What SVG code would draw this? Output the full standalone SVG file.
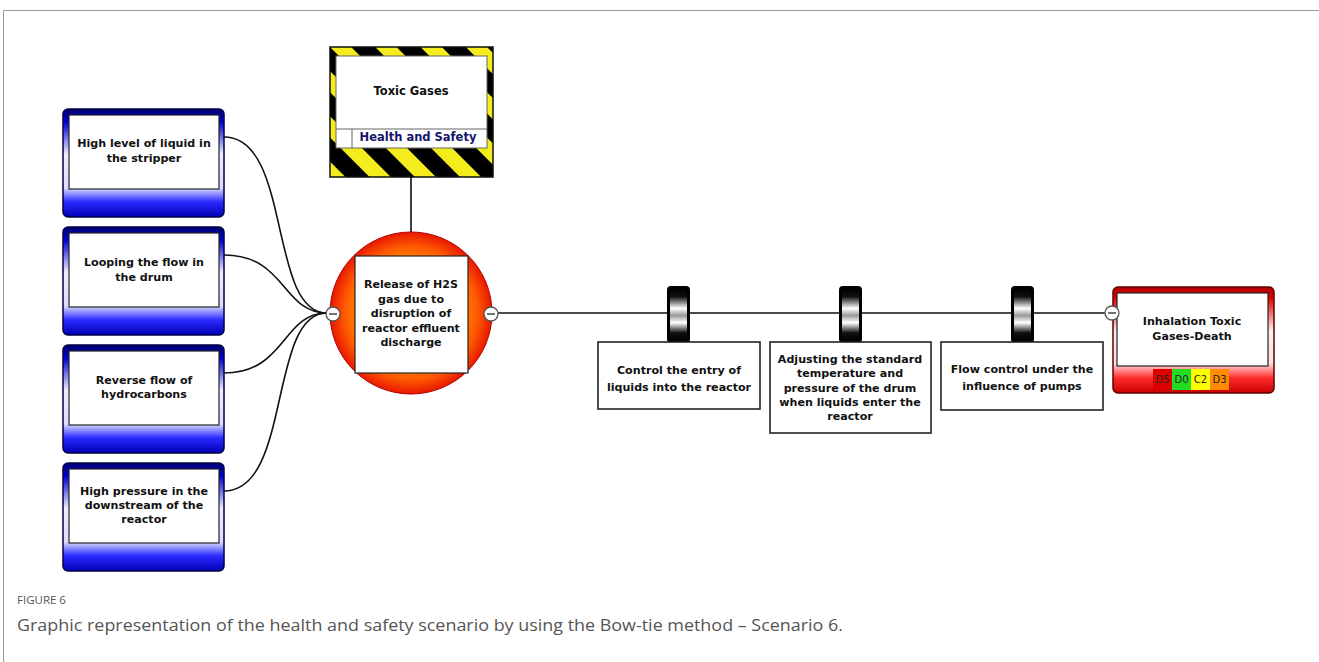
<svg xmlns="http://www.w3.org/2000/svg" width="1319" height="662" viewBox="0 0 1319 662">
<defs>
<linearGradient id="gBlue" x1="0" y1="0" x2="0" y2="1">
<stop offset="0" stop-color="#00006e"/>
<stop offset="0.12" stop-color="#0000d0"/>
<stop offset="0.42" stop-color="#eeeeff"/>
<stop offset="0.73" stop-color="#dcdcff"/>
<stop offset="0.86" stop-color="#2b2bff"/>
<stop offset="1" stop-color="#0000b4"/>
</linearGradient>
<linearGradient id="gRed" x1="0" y1="0" x2="0" y2="1">
<stop offset="0" stop-color="#b00000"/>
<stop offset="0.1" stop-color="#e00000"/>
<stop offset="0.42" stop-color="#fff0f0"/>
<stop offset="0.72" stop-color="#ffdede"/>
<stop offset="0.86" stop-color="#ff2a2a"/>
<stop offset="1" stop-color="#c80000"/>
</linearGradient>
<radialGradient id="gCore" cx="0.5" cy="0.5" r="0.5">
<stop offset="0" stop-color="#ffb400"/>
<stop offset="0.55" stop-color="#ff9a00"/>
<stop offset="0.82" stop-color="#ff5a00"/>
<stop offset="1" stop-color="#e81800"/>
</radialGradient>
<linearGradient id="gKnob" x1="0" y1="0" x2="0" y2="1">
<stop offset="0" stop-color="#000"/>
<stop offset="0.15" stop-color="#111"/>
<stop offset="0.38" stop-color="#fff"/>
<stop offset="0.52" stop-color="#9a9a9a"/>
<stop offset="0.66" stop-color="#fff"/>
<stop offset="0.86" stop-color="#111"/>
<stop offset="1" stop-color="#000"/>
</linearGradient>
<pattern id="stripes" width="32" height="32" patternUnits="userSpaceOnUse" patternTransform="translate(330,47) rotate(-45)">
<rect width="32" height="32" fill="#000"/>
<rect width="15" height="32" fill="#f4ec1c"/>
</pattern>
<style>
.t{font-family:"DejaVu Sans","Verdana",sans-serif;font-weight:bold;font-size:11.1px;fill:#111;text-anchor:middle}
.conn{fill:none;stroke:#111;stroke-width:1.6}
.inner{fill:#fff;stroke:#222;stroke-width:1.2}
.bbox{fill:#fff;stroke:#222;stroke-width:1.6}
.minus{fill:#fff;stroke:#555;stroke-width:1.3}
.mline{stroke:#444;stroke-width:1.5}
.score{font-family:"DejaVu Sans",sans-serif;font-size:10px;text-anchor:middle;fill:#222}
.cap{font-family:"Open Sans","Liberation Sans",sans-serif;fill:#555}
</style>
</defs>
<rect width="1319" height="662" fill="#fff"/>
<path d="M3.5,662 V10.5 H1319" fill="none" stroke="#9a9a9a" stroke-width="1"/>

<g id="connectors">
<path class="conn" d="M224,137 C292,137 268,313 327,313"/>
<path class="conn" d="M224,255 C286,255 282,313 327,313"/>
<path class="conn" d="M224,373 C286,373 282,313 327,313"/>
<path class="conn" d="M224,491 C292,491 268,313 327,313"/>
<path class="conn" d="M411,177 V233"/>
<path class="conn" d="M498,313 H1106"/>
</g>

<g id="threat1">
<rect x="63" y="109" width="161" height="108" rx="5" fill="url(#gBlue)" stroke="#000046" stroke-width="1.5"/>
<rect class="inner" x="69" y="115" width="150" height="74"/>
<text class="t" x="144" y="147">High level of liquid in</text>
<text class="t" x="144" y="162">the stripper</text>
</g>
<g id="threat2">
<rect x="63" y="227" width="161" height="108" rx="5" fill="url(#gBlue)" stroke="#000046" stroke-width="1.5"/>
<rect class="inner" x="69" y="233" width="150" height="74"/>
<text class="t" x="144" y="266">Looping the flow in</text>
<text class="t" x="144" y="281">the drum</text>
</g>
<g id="threat3">
<rect x="63" y="345" width="161" height="108" rx="5" fill="url(#gBlue)" stroke="#000046" stroke-width="1.5"/>
<rect class="inner" x="69" y="351" width="150" height="74"/>
<text class="t" x="144" y="384">Reverse flow of</text>
<text class="t" x="144" y="398">hydrocarbons</text>
</g>
<g id="threat4">
<rect x="63" y="463" width="161" height="108" rx="5" fill="url(#gBlue)" stroke="#000046" stroke-width="1.5"/>
<rect class="inner" x="69" y="469" width="150" height="74"/>
<text class="t" x="144" y="495">High pressure in the</text>
<text class="t" x="144" y="509">downstream of the</text>
<text class="t" x="144" y="523">reactor</text>
</g>

<g id="hazard">
<rect x="330" y="47" width="163" height="130" fill="url(#stripes)" stroke="#111" stroke-width="1.5"/>
<rect x="336" y="56" width="151" height="92" fill="#fff" stroke="#666" stroke-width="1"/>
<line x1="336" y1="129" x2="487" y2="129" stroke="#666" stroke-width="1"/>
<line x1="352" y1="129" x2="352" y2="148" stroke="#666" stroke-width="1"/>
<text class="t" x="411" y="95" style="font-size:11.5px">Toxic Gases</text>
<text class="t" x="418" y="141" style="fill:#16166a;font-size:11.5px">Health and Safety</text>
</g>

<g id="topEvent">
<circle cx="411" cy="313" r="81" fill="url(#gCore)" stroke="#b00000" stroke-width="1"/>
<rect x="355" y="256" width="113" height="117" fill="#fff" stroke="#222" stroke-width="1.2"/>
<text class="t" x="411" y="288">Release of H2S</text>
<text class="t" x="411" y="303">gas due to</text>
<text class="t" x="411" y="317">disruption of</text>
<text class="t" x="411" y="332">reactor effluent</text>
<text class="t" x="411" y="346">discharge</text>
<circle class="minus" cx="333" cy="314" r="7"/>
<line class="mline" x1="329" y1="314" x2="337" y2="314"/>
<circle class="minus" cx="491" cy="314" r="7"/>
<line class="mline" x1="487" y1="314" x2="495" y2="314"/>
</g>

<g id="barrier1">
<rect x="667" y="286" width="23" height="57" rx="4" fill="#000"/>
<rect x="670" y="289" width="17" height="51" rx="3" fill="url(#gKnob)"/>
<rect class="bbox" x="598" y="342" width="162" height="67"/>
<text class="t" x="679" y="374">Control the entry of</text>
<text class="t" x="679" y="391">liquids into the reactor</text>
</g>
<g id="barrier2">
<rect x="839" y="286" width="23" height="57" rx="4" fill="#000"/>
<rect x="842" y="289" width="17" height="51" rx="3" fill="url(#gKnob)"/>
<rect class="bbox" x="770" y="342" width="161" height="91"/>
<text class="t" x="850" y="363">Adjusting the standard</text>
<text class="t" x="850" y="377">temperature and</text>
<text class="t" x="850" y="392">pressure of the drum</text>
<text class="t" x="850" y="406">when liquids enter the</text>
<text class="t" x="850" y="420">reactor</text>
</g>
<g id="barrier3">
<rect x="1011" y="286" width="23" height="57" rx="4" fill="#000"/>
<rect x="1014" y="289" width="17" height="51" rx="3" fill="url(#gKnob)"/>
<rect class="bbox" x="941" y="342" width="162" height="68"/>
<text class="t" x="1022" y="373">Flow control under the</text>
<text class="t" x="1022" y="390">influence of pumps</text>
</g>

<g id="consequence">
<rect x="1113" y="287" width="161" height="106" rx="5" fill="url(#gRed)" stroke="#600000" stroke-width="1.5"/>
<rect class="inner" x="1117" y="293" width="151" height="73"/>
<text class="t" x="1192" y="325">Inhalation Toxic</text>
<text class="t" x="1192" y="340">Gases-Death</text>
<rect x="1153" y="369" width="19" height="21" fill="#dd0000"/>
<rect x="1172" y="369" width="19" height="21" fill="#22dd22"/>
<rect x="1191" y="369" width="19" height="21" fill="#ffff00"/>
<rect x="1210" y="369" width="19" height="21" fill="#ff8c00"/>
<text class="score" x="1162.5" y="383">D5</text>
<text class="score" x="1181.5" y="383">D0</text>
<text class="score" x="1200.5" y="383">C2</text>
<text class="score" x="1219.5" y="383">D3</text>
<circle class="minus" cx="1112" cy="313" r="7"/>
<line class="mline" x1="1108" y1="313" x2="1116" y2="313"/>
</g>

<g id="caption">
<text class="cap" x="17" y="604" style="font-size:11.5px">FIGURE 6</text>
<text class="cap" x="17" y="631" style="font-size:17px" textLength="826" lengthAdjust="spacingAndGlyphs">Graphic representation of the health and safety scenario by using the Bow-tie method – Scenario 6.</text>
</g>
</svg>
